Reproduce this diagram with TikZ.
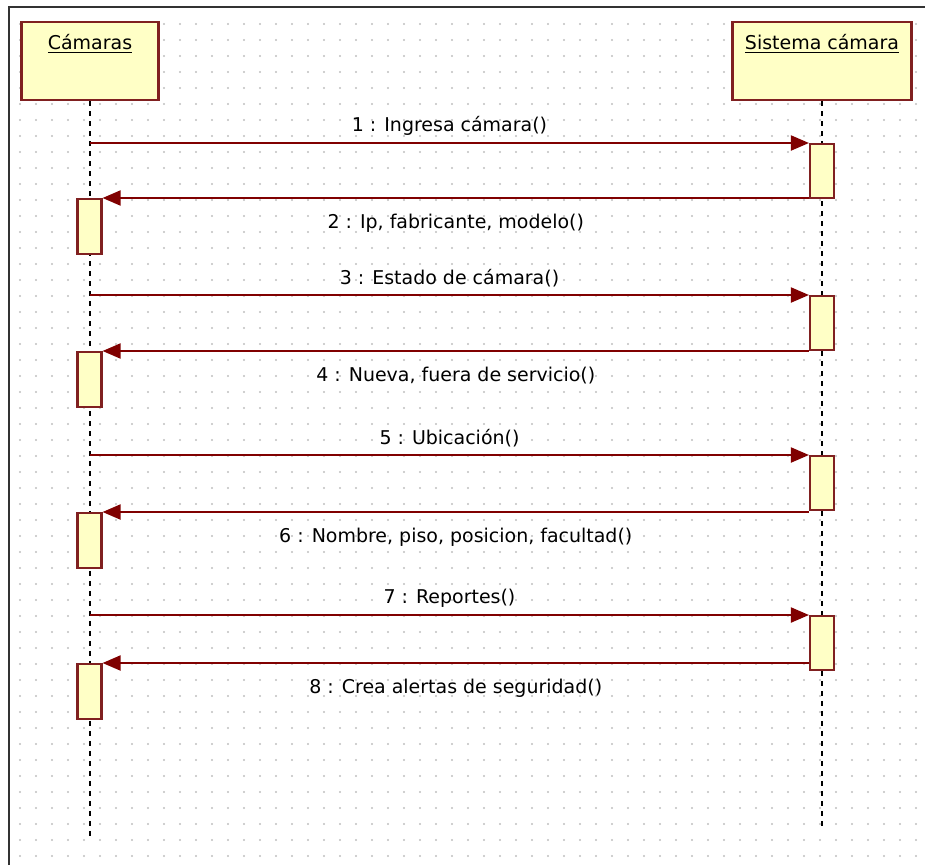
\documentclass[tikz,border=0pt]{standalone}
\usepackage{fontspec}
\setmainfont{DejaVu Sans}
\usepackage{tikz}
\usetikzlibrary{arrows.meta,positioning}
\definecolor{umlred}{RGB}{128,0,0}
\definecolor{umlbox}{RGB}{255,255,198}
\definecolor{umledge}{RGB}{128,32,32}
\tikzstyle{head} = [rectangle, draw=umledge, fill=umlbox, line width=1.2pt,
   minimum width=2.74cm, minimum height=1.56cm, inner sep=0pt]
\tikzstyle{act} = [rectangle, draw=umledge, fill=umlbox, line width=1.2pt,
   minimum width=0.48cm, minimum height=1.1cm, inner sep=0pt, anchor=north]
\tikzstyle{msg} = [-{Triangle[length=0.36cm,width=0.3cm]}, draw=umlred, line width=1.1pt]
\tikzstyle{life} = [draw=black, line width=1.2pt, dash pattern=on 0.1cm off 0.1cm]
\tikzstyle{lbl} = [font=\fontsize{10.8}{13}\selectfont, inner sep=1pt]

\begin{document}
\begin{tikzpicture}[x=0.02cm, y=-0.02cm]
\useasboundingbox (0,0) rectangle (925,865);

% dotted background grid
\foreach \gx in {20,36,...,916}
  \foreach \gy in {24,40,...,856}
    \fill[black!25] (\gx,\gy) circle (0.6pt);
\draw[black!80, line width=1.5pt] (9,865) -- (9,7) -- (925,7);

\node (cam) [head] at (90,61) {};
\node (camtxt) [lbl] at ([yshift=-0.46cm]cam.north) {\underline{Cámaras}};
\node (sis) [head, minimum width=3.58cm] at (822,61) {};
\node (sistxt) [lbl] at ([yshift=-0.46cm]sis.north) {\underline{Sistema cámara}};

\coordinate (camend) at (90,838);
\coordinate (sisend) at (822,828);
\draw[life] (cam.south) -- (camend);
\draw[life] (sis.south) -- (sisend);

% activations
\node (r1) [act, minimum height=1.08cm] at (822,143) {};
\node (r3) [act, minimum height=1.08cm] at (822,295) {};
\node (r5) [act, minimum height=1.08cm] at (822,455) {};
\node (r7) [act, minimum height=1.08cm] at (822,615) {};
\node (l2) [act] at (89.5,198) {};
\node (l4) [act] at (89.5,351) {};
\node (l6) [act] at (89.5,512) {};
\node (l8) [act] at (89.5,663) {};

% messages
\draw[msg] (cam.south |- r1.north west) -- node[lbl, above=0.1cm] {1 : Ingresa cámara()} (r1.north west);
\draw[msg] (r1.south west |- l2.north east) -- node[lbl, below=0.26cm] {2 : Ip, fabricante, modelo()} (l2.north east);
\draw[msg] (cam.south |- r3.north west) -- node[lbl, above=0.1cm] {3 : Estado de cámara()} (r3.north west);
\draw[msg] (r3.south west |- l4.north east) -- node[lbl, below=0.26cm] {4 : Nueva, fuera de servicio()} (l4.north east);
\draw[msg] (cam.south |- r5.north west) -- node[lbl, above=0.1cm] {5 : Ubicación()} (r5.north west);
\draw[msg] (r5.south west |- l6.north east) -- node[lbl, below=0.26cm] {6 : Nombre, piso, posicion, facultad()} (l6.north east);
\draw[msg] (cam.south |- r7.north west) -- node[lbl, above=0.1cm] {7 : Reportes()} (r7.north west);
\draw[msg] (r7.south west |- l8.north east) -- node[lbl, below=0.26cm] {8 : Crea alertas de seguridad()} (l8.north east);

\end{tikzpicture}
\end{document}
